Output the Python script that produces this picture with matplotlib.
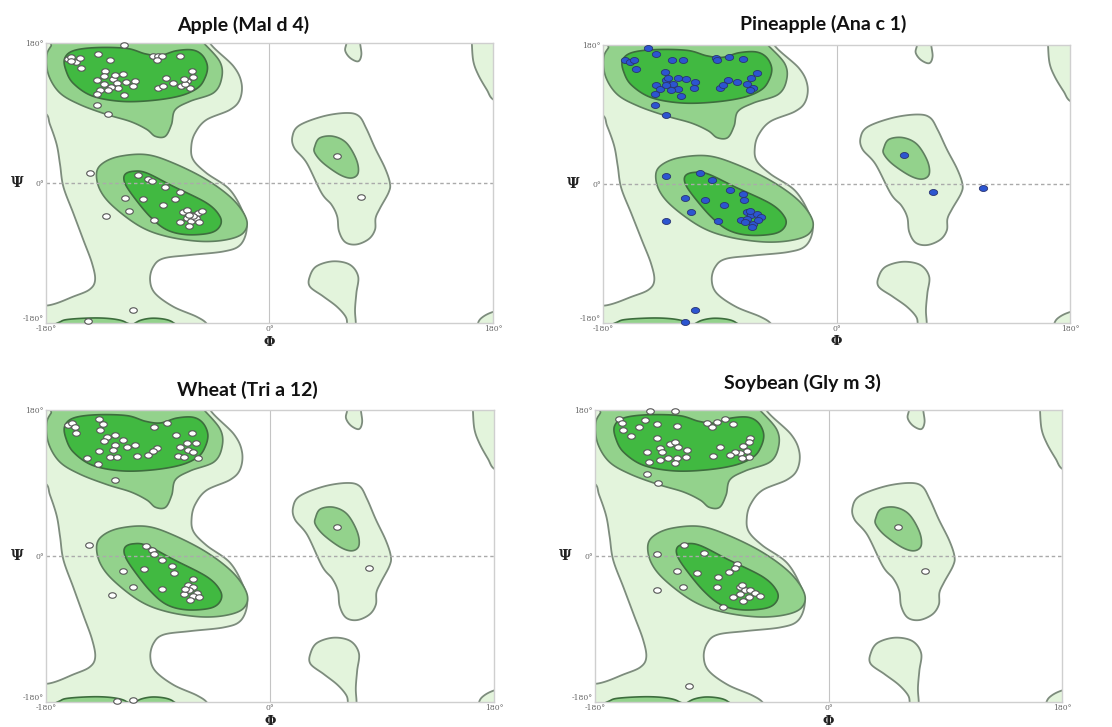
import numpy as np
import matplotlib
matplotlib.use("Agg")
import matplotlib.pyplot as plt
from matplotlib.path import Path
from matplotlib.transforms import Affine2D

"""
Ramachandran plots for four food allergens (phi / psi backbone angles)
"""

# ---- allowed / favoured region outlines (phi, psi in degrees) ----
# points outside +-180 are clipped by the axes
light_main = [(-200, 200), (-48, 200), (-48, 180), (-29, 150), (-22.5, 128), (-24, 107),
              (-32, 94), (-51, 81), (-60, 64), (-63, 47), (-61.5, 30), (-51, 13), (-32, -8.6),
              (-21, -39), (-18.4, -60), (-23.8, -80), (-37, -88), (-64, -92.6), (-85.5, -97),
              (-93.6, -107.6), (-96.2, -124.7), (-92.2, -141.8), (-77.5, -159), (-58.6, -172),
              (-50, -182), (-45, -200), (-200, -200), (-200, -160), (-177, -157), (-158, -146),
              (-145, -137), (-140.5, -124.7), (-143, -103), (-150, -73), (-158, -39),
              (-166, -5), (-168.7, 23.5), (-171.4, 49.3), (-176.8, 75), (-181, 90), (-200, 100)]
light_lh = [(43.2, 85.7), (62, 90), (72, 86), (78, 70), (85, 45), (93, 19.3), (97, 0),
            (96, -12), (89, -32.5), (85.5, -45), (85, -60), (80, -72), (70, -79), (61, -76),
            (56, -62), (54.5, -43), (50, -28), (42, -13), (30, 25.7), (20, 45), (18.5, 60),
            (24, 74)]
light_top = [(62, 192), (62, 180), (61, 170), (65, 160.7), (71.4, 156.4), (74, 165), (73, 180),
             (73, 192)]
light_bottom = [(32.5, -120), (37.9, -107), (51.3, -100.7), (64.7, -105), (71.4, -120),
                (70, -141.4), (68.9, -163), (69.5, -180), (69, -192), (62, -192), (62.5, -180),
                (61, -171), (54, -158.6), (43.2, -145.7), (32.5, -133)]
light_right_top = [(163, 192), (163, 180), (164.2, 156.5), (168.2, 139), (175, 120),
                   (180.5, 107), (195, 100), (200, 192)]
light_right_bottom = [(167, -195), (168, -180), (172, -172), (180.5, -165.5), (195, -160),
                      (198, -195)]

mid_top = [(-60, 192), (-53, 180), (-40, 156), (-38.5, 135), (-45, 116), (-64, 105), (-76, 94),
           (-79, 75), (-84, 60), (-92, 60), (-99, 69), (-112, 79), (-131, 88), (-153, 101),
           (-169, 116), (-178, 139), (-179.5, 163), (-176, 176), (-168, 192)]
mid_alpha = [(-139.3, 12.9), (-134, 25.7), (-120.5, 34.3), (-99, 36.4), (-77.6, 25.7),
             (-50.7, 4.3), (-29.3, -21.4), (-18.5, -47), (-21.2, -64.3), (-34.6, -72.9),
             (-56, -75), (-83, -68.6), (-104.4, -55.7), (-126, -30), (-136.6, -8.6)]
mid_lh = [(36.5, 47), (40.5, 57.9), (51.3, 60), (62, 51.4), (70, 30), (71.4, 12.9), (66, 6.4),
          (56.6, 10.7), (43.2, 25.7), (36.5, 38.6)]
mid_strip_a = [(-171, -186), (-168, -178), (-160, -175), (-140, -173.5), (-125, -175),
               (-116, -179), (-114, -186)]
mid_strip_b = [(-109, -186), (-106, -178), (-96, -174), (-85, -175), (-78, -179), (-76, -186)]

dark_top = [(-165, 160), (-158, 170), (-140, 174), (-115, 173), (-100, 166), (-88, 164),
            (-75, 170), (-62, 171), (-54, 164), (-50, 150), (-52, 135), (-58, 122), (-72, 112),
            (-95, 106), (-120, 105), (-143, 112), (-158, 128), (-164, 145)]
dark_alpha = [(-116.5, 10.7), (-109.8, 15), (-99, 12.9), (-77.6, -4.3), (-50.7, -25.7),
              (-40, -42.9), (-40, -55.7), (-48, -64.3), (-66.8, -66.4), (-83, -60),
              (-96.4, -42.9), (-109.8, -17), (-116.5, 0)]

# ---- residue angles per structure ----
apple_phi = [-117, -162, -159.5, -156, -152.8, -160, -152.2, -138.5, -128.6, -132.6, -139.3,
             -133.4, -125.9, -117.9, -123.2, -115.7, -108.5, -109.8, -121.9, -127.8, -136.6,
             -133.4, -138.8, -117.3, -129.9, -124.6, -93.7, -89.7, -86.2, -91, -72.2, -62.8,
             -61.5, -66.8, -70.9, -83, -77.6, -89.7, -85.6, -64.2, -67.9, -68.7, -139.3, -129.9,
             -144.7, -105.8, -97.7, -95, -83.8, -72.2, -101.7, -76.2, -116, -85.6, -113.3,
             -131.8, -93.2, -69.5, -66.3, -62.3, -57.4, -54.2, -66.8, -63.6, -59.6, -72.2,
             -56.9, -64.7, -61.5, -64.7, 54, 74.1, -109.8, -146]
apple_psi = [178, 159.4, 162, 156, 160.7, 156.9, 147.4, 165.9, 158.6, 144.4, 132.9, 137.2,
             133.7, 140.6, 128.6, 130.3, 131.6, 125.2, 122.2, 123.4, 120, 126.9, 114.9, 113.6,
             119.2, 138.9, 163.7, 163.7, 163.7, 157.7, 162.9, 143.6, 135.9, 130.7, 125.2, 135,
             128.6, 121.7, 125.2, 121.7, 127.7, 133.7, 100.7, 88.7, 12.9, 10.7, 5.6, 2.1, -5.6,
             -12, -20.6, -20.6, -19.3, -27.9, -36.4, -42, -48, -37.7, -34.3, -40.7, -38.6,
             -35.6, -45, -49.3, -45.4, -50.6, -50.6, -55.7, -42, -40.7, 35.1, -17.6, -162.9,
             -178]

pineapple_phi = [-145.3, -163.3, -159.4, -156.3, -154.3, -138.9, -126.5, -118.3, -92.6, -92.1,
                 -82.8, -72.5, -132.4, -138.9, -131.7, -129.9, -126, -122.1, -115.7, -109.3,
                 -110, -122.1, -127.3, -136.3, -140.1, -119.6, -131.1, -83.6, -77.1, -90,
                 -87.5, -69.4, -64.3, -61.7, -65.6, -66.8, -139.6, -131.1, -131.1, -105.4,
                 -95.9, -82.3, -72, -116.5, -101.6, -86.7, -71.2, -112.4, -131.1, -91.3, -73.3,
                 -69.4, -65.6, -61.7, -57.9, -69.4, -64.3, -70.7, -60.4, -66.8, -64.8, 52.2,
                 74.1, 112.6, -109.3, -117]
pineapple_psi = [176.7, 161.2, 158.2, 160.3, 148.7, 168.1, 160.3, 160.3, 163.8, 160.3, 164.6,
                 162.5, 145.2, 127.9, 134.4, 137.9, 130.1, 137.9, 136.6, 132.2, 124.9, 123.6,
                 122.3, 123.6, 116.2, 113.7, 127.9, 135.3, 132.2, 124.9, 127.9, 130.1, 124.9,
                 143.9, 137.9, 122.3, 102, 89.9, 10.4, 14.3, 5.6, -8.2, -12.5, -18.2, -21.2,
                 -27.7, -21.2, -36.7, -48, -48, -47.1, -36.3, -40.6, -38.5, -42.8, -44.9, -51.4,
                 -49.3, -47.1, -35, -55.7, 38, -10.4, -4.8, -163.8, -179]

wheat_phi = [-162.1, -159.4, -156.7, -155.9, -137.2, -134.1, -136.6, -131.3, -133.4, -124.6,
             -117.9, -124.6, -115.2, -108.5, -137.2, -125.9, -128.6, -123.2, -106.6, -97.8,
             -147.3, -138.5, -93.2, -83, -75.5, -63, -67, -59.5, -72.3, -65.6, -62.2, -90.5,
             -93.8, -73.7, -69.1, -57.6, -124.6, -145.2, -99.9, -95.1, -93.2, -86.5, -79,
             -77.1, -101.3, -118.4, -110.4, -127.2, -86.5, -62.2, -65.6, -61.6, -64.8, -58.9,
             -69.1, -62.2, -56.9, -64.3, -68, 54.1, 79.8, -122.7, -109.8]
wheat_psi = [161.5, 164.3, 158.6, 152, 168.4, 162.7, 155.3, 147.1, 141.7, 149.1, 142.9, 136.8,
             133.9, 136.8, 129.8, 130.6, 121.6, 122.4, 123.2, 124.4, 120.3, 113.3, 159.4, 163.5,
             149.1, 151.2, 139.6, 139.6, 133.9, 130.6, 128.5, 132.7, 129.4, 123.2, 121.6, 120.3,
             93.6, 13.4, 12.1, 7.2, 2.3, -5.1, -12.5, -20.8, -16.2, -18.3, -38.8, -48.3, -40.1,
             -27.8, -36, -38.8, -42.1, -45.4, -46.3, -49.6, -50.4, -54.5, -40.1, 35.2, -14.6,
             -178.7, -177.9]

soybean_phi = [-137.6, -118.3, -161.2, -159.4, -158.1, -152.5, -145.8, -141.4, -132.4, -116.5,
               -93.9, -90, -86.1, -79.7, -73.3, -132.4, -140.1, -129.9, -128.6, -122.1, -118.3,
               -115.7, -109.3, -109.8, -117, -123.4, -129.9, -138.1, -118.3, -83.6, -89.2,
               -60.4, -61.7, -66.1, -62.9, -68, -61.7, -66.8, -72, -75.9, -139.6, -131.1,
               -132.4, -111.3, -95.9, -116.5, -101.6, -84.9, -77.1, -70.7, -72, -112.4, -131.9,
               -86.1, -68.1, -64.3, -60.4, -56.6, -73.3, -68.1, -65.6, -61.7, -52.7, -81,
               -66.6, 53.2, 74.6, -107.2]
soybean_psi = [178.3, 179.1, 168.4, 164.3, 155.3, 147.9, 159.4, 167.6, 162.3, 160.2, 163.5,
               158.6, 165.6, 168.4, 162.7, 145, 128.5, 132.7, 128.5, 138, 140.9, 133.9, 130.6,
               122.4, 120.3, 120.3, 118.3, 116.2, 114.2, 134.7, 123.2, 145, 140.9, 135.5, 129.8,
               126.5, 121.6, 120.3, 128.5, 124.4, 100.9, 90.2, 2.3, 13.4, 3.9, -18.7, -20.8,
               -26.5, -19.5, -10.5, -15.4, -38, -42.1, -38, -38, -42.1, -42.1, -45.4, -50.4,
               -47.1, -55.3, -50.4, -49.6, -62.7, -36, 36, -18.7, -160.6]

titles = ["Apple (Mal d 4)", "Pineapple (Ana c 1)", "Wheat (Tri a 12)", "Soybean (Gly m 3)"]

# colours
c_light, c_mid, c_dark = "#e3f4dc", "#93d28c", "#41b941"
e_light, e_mid, e_dark = "#7d8c7d", "#5f7f5f", "#3d6d3d"


def smooth_closed(pts, n=24):
    # closed Catmull-Rom spline through the outline vertices
    P1 = np.asarray(pts, float)
    P0 = np.roll(P1, 1, 0)
    P2 = np.roll(P1, -1, 0)
    P3 = np.roll(P1, -2, 0)
    t = np.linspace(0, 1, n, endpoint=False)[:, None, None]
    C = 0.5 * (2 * P1 + (P2 - P0) * t + (2 * P0 - 5 * P1 + 4 * P2 - P3) * t ** 2
               + (3 * P1 - P0 - 3 * P2 + P3) * t ** 3)
    return C.transpose(1, 0, 2).reshape(-1, 2)


def draw_regions(ax):
    for reg in [light_main, light_lh, light_top, light_bottom, light_right_top, light_right_bottom]:
        c = smooth_closed(reg)
        ax.fill(c[:, 0], c[:, 1], facecolor=c_light, edgecolor=e_light, lw=1.3, zorder=1)
    for reg in [mid_top, mid_alpha, mid_lh]:
        c = smooth_closed(reg)
        ax.fill(c[:, 0], c[:, 1], facecolor=c_mid, edgecolor=e_mid, lw=1.2, zorder=1.1)
    for reg in [mid_strip_a, mid_strip_b]:
        c = smooth_closed(reg)
        ax.fill(c[:, 0], c[:, 1], facecolor=c_mid, edgecolor=e_dark, lw=1.2, zorder=1.1)
    for reg in [dark_top, dark_alpha]:
        c = smooth_closed(reg)
        ax.fill(c[:, 0], c[:, 1], facecolor=c_dark, edgecolor=e_dark, lw=1.2, zorder=1.2)


# slightly flattened circle used as the residue marker
ellipse = Path.unit_circle().transformed(Affine2D().scale(1.0, 0.72))

fig = plt.figure(figsize=(11.12, 7.27), dpi=100)

# axes boxes [left, bottom, width, height] in figure fractions
boxes = [[0.0414, 0.5557, 0.4019, 0.3852],
         [0.5423, 0.5557, 0.4200, 0.3824],
         [0.0414, 0.0344, 0.4029, 0.4017],
         [0.5351, 0.0344, 0.4200, 0.4017]]
title_xy = [(243, 25), (823, 24), (247, 390), (802, 383)]
phis = [apple_phi, pineapple_phi, wheat_phi, soybean_phi]
psis = [apple_psi, pineapple_psi, wheat_psi, soybean_psi]

for i in range(4):
    ax = fig.add_axes(boxes[i])
    ax.set_xlim(-180, 180)
    ax.set_ylim(-180, 180)
    draw_regions(ax)

    # zero lines
    ax.axhline(0, color="#aaaaaa", lw=1.0, ls=(0, (2.5, 2)), zorder=2)
    ax.axvline(0, color="#c4c4c4", lw=0.8, zorder=2)

    # residues
    if i == 1:
        ax.scatter(phis[i], psis[i], marker=ellipse, s=36, facecolor="#2c55d0",
                   edgecolor="#2a3470", lw=0.6, zorder=3, clip_on=False)
    else:
        ax.scatter(phis[i], psis[i], marker=ellipse, s=30, facecolor="white",
                   edgecolor="#555555", lw=0.8, zorder=3, clip_on=False)

    # ticks and frame
    ax.set_xticks([-180, 0, 180])
    ax.set_xticklabels(["-180°", "0°", "180°"])
    ax.set_yticks([-180, 0, 180])
    ax.set_yticklabels(["-180°", "0°", "180°"])
    ax.tick_params(length=0, labelsize=5.5, labelcolor="#666666")
    ax.tick_params(axis="x", pad=1.5)
    ax.tick_params(axis="y", pad=1.5)
    for lab in ax.get_xticklabels() + ax.get_yticklabels():
        lab.set_family("DejaVu Serif")
    # lift the lowest psi label so it clears the phi labels
    ax.get_yticklabels()[0].set_verticalalignment("bottom")
    for sp in ax.spines.values():
        sp.set_color("#cfcfcf")
        sp.set_linewidth(1.0)

    ax.text(-0.064, 0.5, "Ψ", transform=ax.transAxes, ha="center", va="center",
            fontsize=10, fontweight="bold", family="DejaVu Serif", color="#222222")
    ax.text(0.5, -0.068, "Φ", transform=ax.transAxes, ha="center", va="center",
            fontsize=9.5, fontweight="bold", family="DejaVu Serif", color="#222222")

    fig.text(title_xy[i][0] / 1112, 1 - title_xy[i][1] / 727, titles[i], ha="center",
             va="center", fontsize=14, fontweight="bold", family="Lato", color="#111111")

fig.savefig("out.png", dpi=100)
